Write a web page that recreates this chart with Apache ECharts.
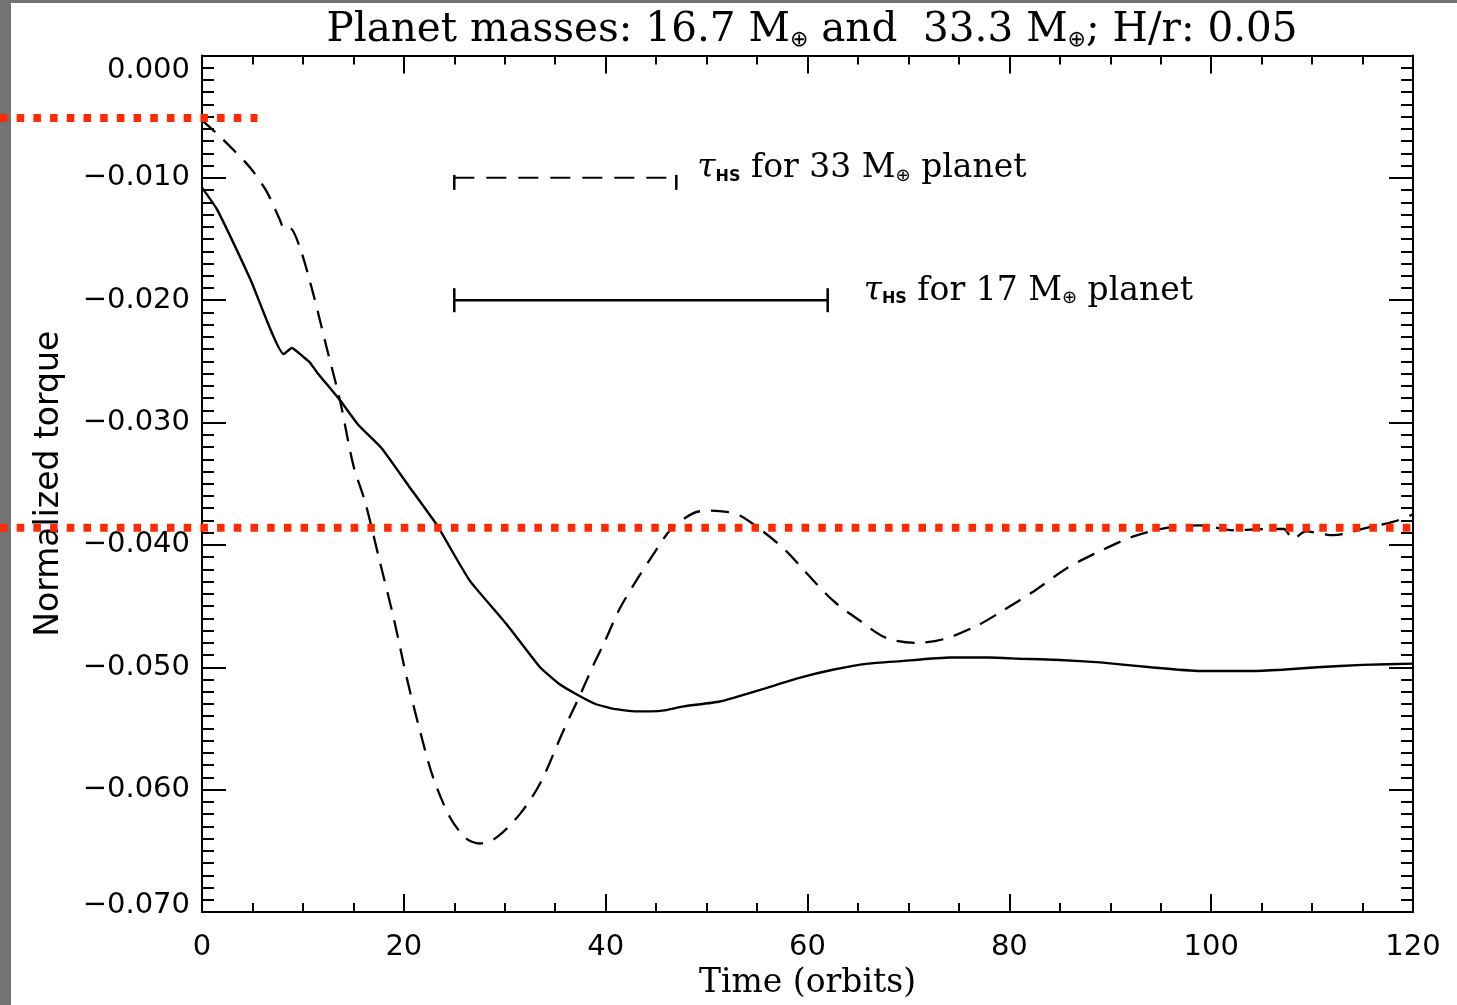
<!DOCTYPE html>
<html>
<head>
<meta charset="utf-8">
<style>
  html, body { margin: 0; padding: 0; background: #ffffff; overflow: hidden; }
  #chart { width: 1457px; height: 1005px; }
</style>
<script src="https://cdn.jsdelivr.net/npm/echarts@6/dist/echarts.min.js"></script>
</head>
<body>
<div id="chart"></div>
<script>
// Torque on the 16.7 Earth-mass planet (solid curve)
const time17 = [0, 1.5, 4.8, 8.1, 8.9, 10.0, 10.7, 11.4, 13.7, 15.5, 17.8, 20.5, 23.3, 25.2, 26.6,
  30.2, 33.5, 35.3, 37.1, 39.0, 40.8, 43.0, 44.4, 46.0, 47.7, 51.3, 55.9, 59.0,
  62.5, 66.0, 69.2, 74.1, 78.0, 81.1, 85.0, 89.0, 94.0, 98.9, 103.8, 107.0, 110.5, 115.0, 120.0];
const torque17 = [-0.0108, -0.0126, -0.0183, -0.0244, -0.0239, -0.0246, -0.0251, -0.0259,
  -0.0282, -0.0302, -0.0321, -0.0352, -0.0384, -0.0411, -0.0430, -0.0465,
  -0.0500, -0.0513, -0.0522, -0.0530, -0.0534, -0.0536, -0.0536, -0.0535, -0.0532, -0.0528,
  -0.0517, -0.0509, -0.0502, -0.0497, -0.0495, -0.0492, -0.0492, -0.0493, -0.0494, -0.0496,
  -0.0500, -0.0503, -0.0503, -0.0502, -0.0500, -0.0498, -0.0497];

// Torque on the 33.3 Earth-mass planet (dashed curve)
const time33 = [0, 1.1, 3.1, 4.8, 6.4, 7.7, 8.2, 8.7, 9.7, 11.0, 12.3, 13.7, 15.0, 16.2, 17.6,
  19.0, 20.3, 21.6, 22.9, 24.6, 26.2, 27.5, 29.2, 31.5, 33.5, 35.8, 37.5, 38.8, 39.8, 41.4,
  43.2, 44.7, 46.5, 48.7, 50.2, 52.0, 53.3, 55.6, 57.9, 59.9, 62.6, 65.2, 67.8, 70.8, 73.5,
  76.8, 79.1, 82.4, 85.7, 89.0, 92.3, 95.6, 98.9, 102.2, 105.5, 107.2, 108.1, 109.4, 112.1,
  115.4, 118.1, 120.0];
const torque33 = [-0.0053, -0.0061, -0.0077, -0.0092, -0.0111, -0.0134, -0.0142, -0.0141, -0.0157,
  -0.0194, -0.0237, -0.0283, -0.0335, -0.0366, -0.0413, -0.0460, -0.0509, -0.0552, -0.0590,
  -0.0623, -0.0640, -0.0644, -0.0639, -0.0620, -0.0595, -0.0552, -0.0522, -0.0498, -0.0481,
  -0.0452, -0.0427, -0.0408, -0.0387, -0.0374, -0.0372, -0.0373, -0.0376, -0.0389, -0.0405,
  -0.0423, -0.0446, -0.0462, -0.0476, -0.0480, -0.0477, -0.0466, -0.0455, -0.0438, -0.0419,
  -0.0405, -0.0393, -0.0386, -0.0384, -0.0388, -0.0387, -0.0387, -0.0395, -0.0389, -0.0392,
  -0.0386, -0.0381, -0.0375];

// Horse-shoe libration time bars: [start, end, level]
const tauBar33 = [25, 47, -0.010];
const tauBar17 = [25, 62, -0.020];

// Reference torque levels (red dotted): [right end, level]; both start at the page edge
const refLevelUpper = [5.5, -0.0051];
const refLevelLower = [120, -0.0386];

const xTicks = { min: 0, max: 120, step: 20 };
const yTicks = { min: -0.07, max: 0, step: 0.01 };

const pairs = (xs, ys) => xs.map((x, i) => [x, ys[i]]);

const chart = echarts.init(document.getElementById('chart'), null,
  { renderer: 'canvas', width: 1457, height: 1005 });

const axisCommon = {
  axisLine: { show: true, onZero: false, lineStyle: { color: '#000', width: 2 } },
  splitLine: { show: false }
};

const tickLabelFont = { fontFamily: 'DejaVu Sans', fontSize: 29, color: '#000' };

const richText = {
  tau: { fontFamily: 'DejaVu Serif', fontStyle: 'italic', fontSize: 33, color: '#000' },
  hs: { fontFamily: 'DejaVu Sans', fontWeight: 'bold', fontSize: 16, color: '#000', padding: [16, 0, 0, 0] },
  sub: { fontFamily: 'DejaVu Sans', fontSize: 18, color: '#000', padding: [15, 0, 0, 0] },
  txt: { fontFamily: 'DejaVu Serif', fontSize: 33, color: '#000' }
};

function tauBarSeries(bar, dashed, label) {
  return {
    type: 'custom',
    clip: false,
    silent: true,
    data: [bar],
    renderItem: function (params, api) {
      const p0 = api.coord([api.value(0), api.value(2)]);
      const p1 = api.coord([api.value(1), api.value(2)]);
      const capTop = dashed ? -3 : -12;
      const capBot = 12;
      const lw = dashed ? 2 : 2.5;
      return {
        type: 'group',
        children: [
          { type: 'line', shape: { x1: p0[0], y1: p0[1], x2: p1[0], y2: p1[1] },
            style: { stroke: '#000', lineWidth: lw, lineDash: dashed ? [20, 12] : null } },
          { type: 'line', shape: { x1: p0[0], y1: p0[1] + capTop, x2: p0[0], y2: p0[1] + capBot },
            style: { stroke: '#000', lineWidth: 2.5 } },
          { type: 'line', shape: { x1: p1[0], y1: p1[1] + capTop, x2: p1[0], y2: p1[1] + capBot },
            style: { stroke: '#000', lineWidth: 2.5 } },
          { type: 'text', x: p1[0] + (dashed ? 21 : 36), y: p1[1] - 9,
            style: { text: label, rich: richText, align: 'left', verticalAlign: 'middle',
                     fontFamily: 'DejaVu Serif', fontSize: 33, fill: '#000' } }
        ]
      };
    }
  };
}

const frameBands = [
  { type: 'rect', z: -10, shape: { x: 0, y: 0, width: 11, height: 1005 }, style: { fill: '#737373' } },
  { type: 'rect', z: -10, shape: { x: 0, y: 0, width: 1457, height: 3 }, style: { fill: '#737373' } }
];

const option = {
  backgroundColor: '#ffffff',
  animation: false,
  title: {
    text: 'Planet masses: 16.7 M{sub|⊕} and  33.3 M{sub|⊕}; H/r: 0.05',
    left: 807,
    top: 4,
    textAlign: 'center',
    textStyle: {
      fontFamily: 'DejaVu Serif', fontSize: 40.5, fontWeight: 'normal', color: '#000',
      rich: {
        sub: { fontFamily: 'DejaVu Sans', fontSize: 22, color: '#000', padding: [20, 0, 0, 0] }
      }
    }
  },
  graphic: frameBands,
  grid: { left: 202, width: 1211, top: 55.5, height: 859.5, containLabel: false },
  xAxis: [
    Object.assign({}, axisCommon, {
      type: 'value', position: 'bottom', min: xTicks.min, max: xTicks.max, interval: xTicks.step,
      axisTick: { show: true, inside: true, length: 18, lineStyle: { color: '#000', width: 2 } },
      minorTick: { show: true, splitNumber: 4, length: 9, lineStyle: { color: '#000', width: 2 } },
      axisLabel: Object.assign({ margin: 21, formatter: v => String(Math.round(v)) }, tickLabelFont),
      name: 'Time (orbits)', nameLocation: 'middle', nameGap: 55,
      nameTextStyle: { fontFamily: 'DejaVu Serif', fontSize: 33, color: '#000' }
    }),
    Object.assign({}, axisCommon, {
      type: 'value', position: 'top', min: xTicks.min, max: xTicks.max, interval: xTicks.step,
      axisTick: { show: true, inside: true, length: 18, lineStyle: { color: '#000', width: 2 } },
      minorTick: { show: true, splitNumber: 4, length: 9, lineStyle: { color: '#000', width: 2 } },
      axisLabel: { show: false }
    })
  ],
  yAxis: [
    Object.assign({}, axisCommon, {
      type: 'value', position: 'left', min: yTicks.min, max: yTicks.max, interval: yTicks.step,
      axisTick: { show: true, inside: true, length: 24, lineStyle: { color: '#000', width: 2 } },
      minorTick: { show: true, splitNumber: 10, length: 12, lineStyle: { color: '#000', width: 2 } },
      axisLabel: Object.assign({
        margin: 12,
        verticalAlignMaxLabel: 'top',
        formatter: function (v) {
          const s = Math.abs(v) < 1e-9 ? '0.000' : '\u2212' + Math.abs(v).toFixed(3);
          return Math.abs(v - yTicks.min) < 1e-9 ? '{low|' + s + '}' : s;
        },
        rich: { low: { fontFamily: 'DejaVu Sans', fontSize: 29, color: '#000', padding: [0, 0, 14, 0] } }
      }, tickLabelFont),
      name: 'Normalized torque', nameLocation: 'middle', nameGap: 136, nameRotate: 90,
      nameTextStyle: { fontFamily: 'DejaVu Sans', fontSize: 33, color: '#000' }
    }),
    Object.assign({}, axisCommon, {
      type: 'value', position: 'right', min: yTicks.min, max: yTicks.max, interval: yTicks.step,
      axisTick: { show: true, inside: true, length: 24, lineStyle: { color: '#000', width: 2 } },
      minorTick: { show: true, splitNumber: 10, length: 12, lineStyle: { color: '#000', width: 2 } },
      axisLabel: { show: false }
    })
  ],
  series: [
    {
      type: 'line', name: '17', symbol: 'none', silent: true, smooth: 0.15,
      data: pairs(time17, torque17),
      lineStyle: { color: '#000', width: 2.4, type: 'solid' }
    },
    {
      type: 'line', name: '33', symbol: 'none', silent: true, smooth: 0.3,
      data: pairs(time33, torque33),
      lineStyle: { color: '#000', width: 2.3, type: [18, 11] }
    },
    tauBarSeries(tauBar33, true, '{tau|τ}{hs|HS}{txt| for 33 M}{sub|⊕}{txt| planet}'),
    tauBarSeries(tauBar17, false, '{tau|τ}{hs|HS}{txt| for 17 M}{sub|⊕}{txt| planet}')
  ]
};

chart.setOption(option);

// Red dotted reference levels, from the page edge to their right end on the time axis
function refLevelGraphic(ref) {
  const p = chart.convertToPixel({ xAxisIndex: 0, yAxisIndex: 0 }, [ref[0], ref[1]]);
  return {
    type: 'line', z: 50,
    shape: { x1: 0, y1: p[1], x2: p[0], y2: p[1] },
    style: { stroke: '#ff2a00', lineWidth: 8, lineDash: [7.5, 9.2], lineCap: 'butt' }
  };
}

chart.setOption({
  graphic: frameBands.concat([refLevelGraphic(refLevelUpper), refLevelGraphic(refLevelLower)])
});
</script>
</body>
</html>
